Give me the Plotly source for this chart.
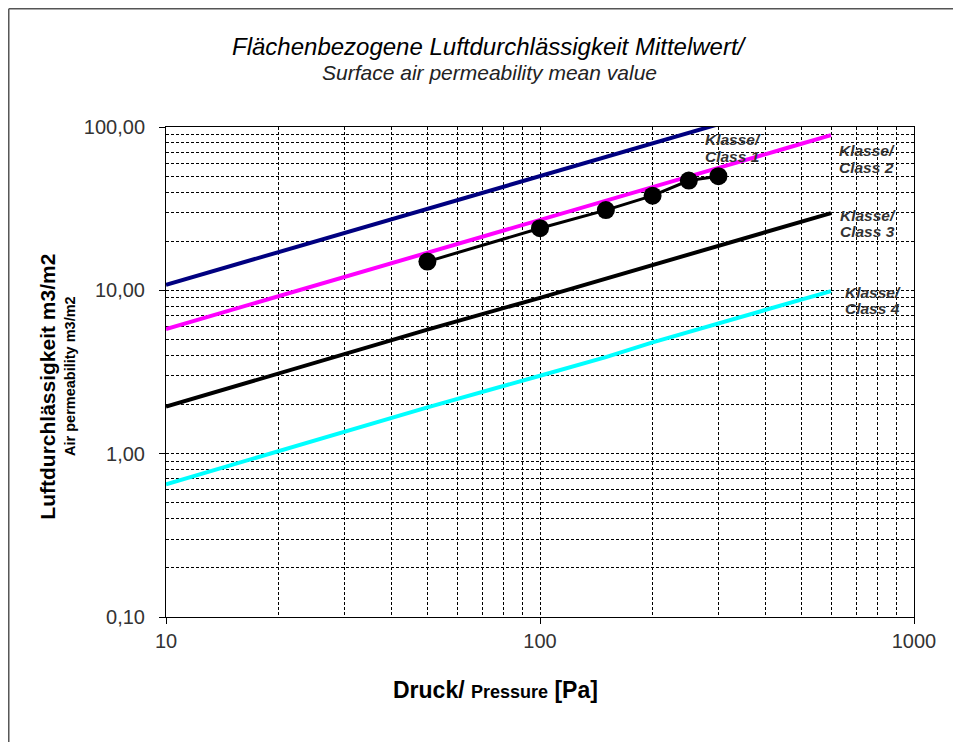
import plotly.graph_objects as go

# ---- data ----
pressure_classes = [10, 50, 100, 150, 200, 250, 300, 450, 600]
class1 = [10.8, 31.6, 50.0, 65.5, 79.4, 92.1, 104.0, 136.0, 165.0]
class2 = [5.8, 17.1, 27.0, 35.4, 42.9, 49.7, 56.2, 73.6, 89.2]
class3 = [1.94, 5.75, 9.0, 11.8, 14.3, 16.6, 18.7, 24.5, 29.7]
class4 = [0.65, 1.92, 3.0, 3.9, 4.8, 5.55, 6.25, 8.2, 9.9]

pressure_measured = [50, 100, 150, 200, 250, 300]
measured = [15.0, 24.0, 31.0, 38.0, 47.0, 50.0]

x_major = [10, 100, 1000]
x_major_text = ["10", "100", "1000"]
x_minor = [20, 30, 40, 50, 60, 70, 80, 90, 200, 300, 400, 500, 600, 700, 800, 900]
y_major = [0.1, 1, 10, 100]
y_major_text = ["0,10", "1,00", "10,00", "100,00"]
y_minor = [0.2, 0.3, 0.4, 0.5, 0.6, 0.7, 0.8, 0.9,
           2, 3, 4, 5, 6, 7, 8, 9,
           20, 30, 40, 50, 60, 70, 80, 90]

class_line1 = ["Klasse/", "Klasse/", "Klasse/", "Klasse/"]
class_line2 = ["Class 1", "Class 2", "Class 3", "Class 4"]

FONT = "Liberation Sans, Arial, sans-serif"
DASH = "3px,2px"

fig = go.Figure()
for vals, col in [(class1, "#000080"), (class2, "#FF00FF"),
                  (class3, "#000000"), (class4, "#00FFFF")]:
    fig.add_trace(go.Scatter(x=pressure_classes, y=vals, mode="lines",
                             line=dict(color=col, width=4), showlegend=False))
fig.add_trace(go.Scatter(x=pressure_measured, y=measured, mode="lines+markers",
                         line=dict(color="#000000", width=3),
                         marker=dict(color="#000000", size=18),
                         showlegend=False))

common = dict(ticks="outside", ticklen=6, tickcolor="#000", tickwidth=1,
              showgrid=True, gridcolor="#000", gridwidth=1, griddash=DASH,
              showline=True, linecolor="#000", linewidth=1, mirror=True,
              zeroline=False, tickfont=dict(family=FONT, size=20, color="#333"))

fig.update_xaxes(type="log", range=[1, 3],
                 tickmode="array", tickvals=x_major, ticktext=x_major_text,
                 minor=dict(tickmode="array", tickvals=x_minor, showgrid=True,
                            gridcolor="#000", gridwidth=1, griddash=DASH, ticks=""),
                 ticklabelstandoff=0, **common)
fig.update_yaxes(type="log", range=[-1, 2],
                 tickmode="array", tickvals=y_major, ticktext=y_major_text,
                 minor=dict(tickmode="array", tickvals=y_minor, showgrid=True,
                            gridcolor="#000", gridwidth=1, griddash=DASH, ticks=""),
                 ticklabelstandoff=10, **common)

annotations = [
    dict(text="<i>Flächenbezogene Luftdurchlässigkeit Mittelwert/</i>",
         x=0.432, y=1.165, font=dict(family=FONT, size=24, color="#000")),
    dict(text="<i>Surface air permeability mean value</i>",
         x=0.432, y=1.112, font=dict(family=FONT, size=21, color="#222")),
    dict(text="<b>Luftdurchlässigkeit m3/m2</b>",
         x=-0.1578, y=0.47, textangle=-90,
         font=dict(family=FONT, size=21, color="#000")),
    dict(text="<b>Air permeability m3/m2</b>",
         x=-0.1283, y=0.492, textangle=-90,
         font=dict(family=FONT, size=14.5, color="#000")),
    dict(text="<b>Druck/ <span style='font-size:18px'>Pressure</span> [Pa]</b>",
         x=0.44, y=-0.149, font=dict(family=FONT, size=23, color="#000")),
]
for a in annotations:
    a.update(xref="paper", yref="paper", xanchor="center", yanchor="middle",
             showarrow=False)

label_pos = [(0.718, 0.9755, 0.9388), (0.897, 0.953, 0.918),
             (0.898, 0.820, 0.786), (0.905, 0.663, 0.629)]
for t1, t2, (lx, ly1, ly2) in zip(class_line1, class_line2, label_pos):
    for txt, ly in [(t1, ly1), (t2, ly2)]:
        annotations.append(dict(text="<b><i>" + txt + "</i></b>", x=lx, y=ly,
                                xref="paper", yref="paper", xanchor="left",
                                yanchor="middle", align="left", showarrow=False,
                                font=dict(family=FONT, size=15.5, color="#333")))

shapes = [
    dict(type="line", xref="paper", yref="paper", x0=-0.2102, x1=1.3,
         y0=1.2413, y1=1.2413, line=dict(color="#555", width=1.5)),
    dict(type="line", xref="paper", yref="paper", x0=-0.2102, x1=-0.2102,
         y0=1.2413, y1=-0.4, line=dict(color="#555", width=1.5)),
]

fig.update_layout(width=961, height=742,
                  margin=dict(l=158, r=55, t=119, b=133),
                  paper_bgcolor="#fff", plot_bgcolor="#fff",
                  annotations=annotations, shapes=shapes,
                  font=dict(family=FONT))

fig.write_html("out.html")
